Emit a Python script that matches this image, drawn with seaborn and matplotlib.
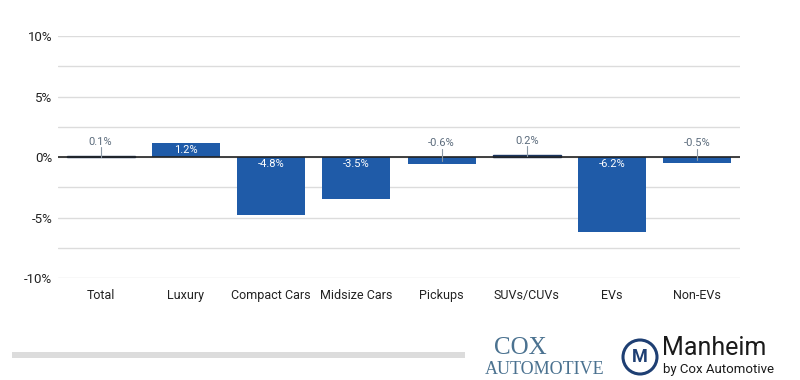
import numpy as np
import pandas as pd
import seaborn as sns
import matplotlib.pyplot as plt
from matplotlib.patches import Rectangle, Ellipse
from matplotlib.ticker import MultipleLocator, FuncFormatter

# 数据
segments = ["Total", "Luxury", "Compact Cars", "Midsize Cars", "Pickups",
            "SUVs/CUVs", "EVs", "Non-EVs"]
changes = [0.1, 1.2, -4.8, -3.5, -0.6, 0.2, -6.2, -0.5]

bar_color = "#1f5ba8"
label_gray = "#5b6b7c"

sns.set_theme(style="white")
plt.rcParams["font.family"] = ["Roboto", "DejaVu Sans"]

df = pd.DataFrame({"segment": segments, "change": changes})

fig = plt.figure(figsize=(8, 3.8), dpi=100)
ax = fig.add_axes([0.0725, 0.268, 0.8525, 0.637])

sns.barplot(data=df, x="segment", y="change", color=bar_color,
            saturation=1, width=0.8, ax=ax, zorder=3, linewidth=0)

# 很小的柱子加深色描边，保证可见
for p, v in zip(ax.patches, changes):
    if abs(v) < 0.3:
        p.set_edgecolor("#1a3560")
        p.set_linewidth(1.0)

ax.set_ylim(-10, 10)
ax.set_xlim(-0.5, len(segments) - 0.5)
ax.yaxis.set_major_locator(MultipleLocator(5))
ax.yaxis.set_minor_locator(MultipleLocator(2.5))
ax.yaxis.set_major_formatter(FuncFormatter(lambda v, p: f"{v:.0f}%"))
ax.grid(axis="y", which="both", color="#dcdcdc", linewidth=1, zorder=0)
ax.axhline(0, color="#222222", linewidth=1.2, zorder=4)
for s in ax.spines.values():
    s.set_visible(False)
ax.tick_params(axis="both", length=0)
ax.tick_params(axis="y", labelsize=9.5, labelcolor="#222222", pad=4)
ax.tick_params(axis="x", labelsize=9, labelcolor="#222222", pad=8)
ax.set_xlabel("")
ax.set_ylabel("")

# 数值标签
for i, v in enumerate(changes):
    txt = f"{v:.1f}%"
    if abs(v) >= 1:
        y = v / 2 if v > 0 else -0.55
        ax.text(i, y, txt, ha="center", va="center", color="white",
                fontsize=8, zorder=5)
    else:
        ly = max(v, 0) + 0.75
        ax.plot([i, i], [ly - 0.05, v / 2], color="#8a98a6", linewidth=0.8,
                zorder=5)
        ax.text(i, ly, txt, ha="center", va="bottom", color=label_gray,
                fontsize=8, zorder=5)

# 底部装饰
fig.add_artist(Rectangle((12 / 800, 1 - 358 / 380), 453 / 800, 6 / 380,
                         transform=fig.transFigure, color="#dcdcdc", lw=0))
fig.text(520 / 800, 1 - 348 / 380, "COX", ha="center", va="center",
         fontsize=18, family="Liberation Serif", color="#4b7290")
fig.text(545 / 800, 1 - 369 / 380, "AUTOMOTIVE", ha="center", va="center",
         fontsize=13, family="Liberation Serif", color="#4b7290")
fig.add_artist(Ellipse((640 / 800, 1 - 357 / 380), 34 / 800, 34 / 380,
                       transform=fig.transFigure, fill=False,
                       edgecolor="#1e3f73", linewidth=2.2))
fig.text(640 / 800, 1 - 357 / 380, "M", ha="center", va="center",
         fontsize=13, weight="bold", color="#1e3f73")
fig.text(662 / 800, 1 - 348 / 380, "Manheim", ha="left", va="center",
         fontsize=18, color="#1a1a1a")
fig.text(663 / 800, 1 - 369 / 380, "by Cox Automotive", ha="left",
         va="center", fontsize=9.5, color="#1a1a1a")

fig.savefig("out.png", dpi=100, facecolor="white")
